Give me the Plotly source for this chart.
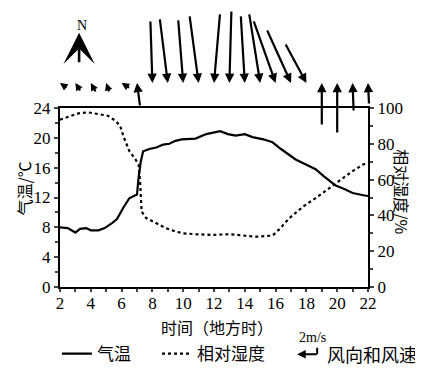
import plotly.graph_objects as go

# ---------------- data ----------------
t_hours = [2.0, 2.5, 3.0, 3.3, 3.7, 4.0, 4.5, 4.9, 5.4, 5.7, 6.1, 6.5, 6.8, 7.0, 7.1, 7.25,
           7.4, 7.8, 8.25, 8.7, 9.1, 9.5, 9.9, 10.35, 10.8, 11.5, 11.9, 12.4, 12.9, 13.4,
           14.0, 14.5, 15.2, 15.8, 16.35, 16.8, 17.3, 18.0, 18.6, 19.1, 19.5, 19.9, 20.5,
           21.0, 21.7, 22.0]
temperature = [8.0, 7.9, 7.3, 7.8, 7.9, 7.6, 7.6, 7.9, 8.6, 9.1, 10.6, 11.9, 12.2, 12.4, 14.6,
               16.9, 18.2, 18.5, 18.7, 19.1, 19.2, 19.6, 19.8, 19.9, 19.9, 20.5, 20.7, 20.9,
               20.5, 20.3, 20.5, 20.1, 19.8, 19.4, 18.5, 17.8, 17.1, 16.4, 15.8, 14.9, 14.2,
               13.6, 13.1, 12.6, 12.3, 12.2]

h_hours = [2.0, 2.4, 3.2, 3.8, 4.5, 5.1, 5.6, 5.9, 6.15, 6.5, 6.9, 7.1, 7.2, 7.25, 7.3, 7.6,
           8.25, 8.9, 9.5, 10.0, 10.8, 11.9, 13.0, 13.8, 14.7, 15.8, 16.2, 16.9, 17.8, 18.6,
           19.5, 20.4, 21.0, 21.7, 22.0]
humidity = [93.5, 94.7, 97.0, 97.6, 96.6, 95.7, 92.9, 90.1, 83.5, 76.0, 71.3, 68.5, 59.0, 48.0,
            42.2, 38.5, 35.6, 32.8, 31.0, 30.0, 29.5, 29.1, 29.5, 28.7, 28.1, 28.7, 31.9, 38.5,
            45.0, 49.7, 55.3, 61.0, 64.7, 68.5, 69.5]

# wind (m/s): u = eastward component, v = northward component (direction wind blows toward)
wind_hours = list(range(2, 23))
wind_u = [-0.7, -0.5, -0.5, -0.3, -0.8, -0.3, 0.2, 0.8, 0.5, 0.9, -0.6, -0.2, 0.4, 1.1, 2.2,
          2.4, 2.1, 0.0, 0.0, -0.1, -0.1]
wind_v = [0.5, 0.8, 0.9, 0.9, 0.5, 2.3, -6.2, -6.4, -6.3, -6.7, -6.9, -7.2, -6.7, -6.9, -6.2,
          -5.3, -3.9, 4.2, 5.0, 2.8, 2.1]
legend_speed = 2  # m/s

x_ticks = list(range(2, 23, 2))

# ---------------- style ----------------
FONT = "Liberation Serif, Noto Sans CJK SC, serif"
CJK = "Noto Sans CJK SC, sans-serif"
PX_PER_MS = 10.0      # arrow length scale (pixels per m/s)
WIND_BASE = 1.14      # paper y of wind arrow heads
LEG_Y = -0.375
TINY = dict(size=1, color="black")

fig = go.Figure()
fig.add_trace(go.Scatter(x=t_hours, y=temperature, mode="lines", name="气温",
                         line=dict(color="black", width=2.2), yaxis="y", legend="legend"))
fig.add_trace(go.Scatter(x=h_hours, y=humidity, mode="lines", name="相对湿度",
                         line=dict(color="black", width=2.2, dash="dot"), yaxis="y2",
                         legend="legend2"))

annotations = []
for h, u, v in zip(wind_hours, wind_u, wind_v):
    length = (u * u + v * v) ** 0.5 * PX_PER_MS
    small = length < 15
    annotations.append(dict(x=h, y=WIND_BASE, xref="x", yref="paper", text="",
                            font=TINY, borderpad=0,
                            showarrow=True, arrowhead=2,
                            arrowsize=0.72 if small else 0.85,
                            arrowwidth=2.1 if small else 2.2,
                            arrowcolor="black", ax=-u * PX_PER_MS, ay=v * PX_PER_MS,
                            standoff=0, startstandoff=0))

# north arrow
annotations.append(dict(x=0.062, y=1.42, xref="paper", yref="paper", text="",
                        font=TINY, borderpad=0,
                        showarrow=True, arrowhead=3, arrowsize=2.0, arrowwidth=2.6,
                        arrowcolor="black", ax=0, ay=30, standoff=0, startstandoff=0))
annotations.append(dict(x=0.072, y=1.46, xref="paper", yref="paper", text="N",
                        xanchor="center", yanchor="middle",
                        showarrow=False, font=dict(family=FONT, size=14, color="black")))

# axis titles
annotations.append(dict(x=-0.117, y=0.55, xref="paper", yref="paper", text="气温/℃",
                        textangle=-90, showarrow=False, xanchor="center", yanchor="middle",
                        font=dict(family=CJK, size=16, color="black")))
annotations.append(dict(x=1.11, y=0.53, xref="paper", yref="paper", text="相对湿度/%",
                        textangle=90, showarrow=False, xanchor="center", yanchor="middle",
                        font=dict(family=CJK, size=16, color="black")))
annotations.append(dict(x=0.51, y=-0.225, xref="paper", yref="paper", text="时间（地方时）",
                        showarrow=False, xanchor="center", yanchor="middle",
                        font=dict(family=CJK, size=16, color="black")))

# wind legend
annotations.append(dict(x=0.77, y=LEG_Y, xref="paper", yref="paper", text="",
                        font=TINY, borderpad=0,
                        showarrow=True, arrowhead=2, arrowsize=0.85, arrowwidth=2,
                        arrowcolor="black", ax=legend_speed * PX_PER_MS, ay=0,
                        standoff=0, startstandoff=0))
annotations.append(dict(x=0.77 + legend_speed * PX_PER_MS / 308, y=LEG_Y, xref="paper",
                        yref="paper", text="", font=TINY, borderpad=0,
                        showarrow=True, arrowhead=0, arrowwidth=2, arrowcolor="black",
                        ax=0, ay=-7, standoff=0, startstandoff=0))
annotations.append(dict(x=0.82, y=LEG_Y + 0.095, xref="paper", yref="paper",
                        text=f"{legend_speed}m/s", showarrow=False,
                        xanchor="center", yanchor="middle",
                        font=dict(family=FONT, size=14, color="black")))
annotations.append(dict(x=1.012, y=LEG_Y, xref="paper", yref="paper", text="风向和风速",
                        showarrow=False, xanchor="center", yanchor="middle",
                        font=dict(family=CJK, size=18, color="black")))

LEGEND_STYLE = dict(orientation="h", y=LEG_Y, xanchor="left", yanchor="middle",
                    font=dict(family=CJK, size=17, color="black"),
                    bgcolor="rgba(0,0,0,0)", itemwidth=30)

fig.update_layout(
    width=423, height=372,
    margin=dict(l=52, r=63, t=100, b=93, autoexpand=False),
    paper_bgcolor="white", plot_bgcolor="white",
    font=dict(family=FONT, size=17, color="black"),
    showlegend=True,
    legend=dict(x=-0.01, **LEGEND_STYLE),
    legend2=dict(x=0.315, **LEGEND_STYLE),
    xaxis=dict(range=[2, 22], tickvals=x_ticks, showline=True, linewidth=2,
               linecolor="black", mirror=True, ticks="outside", ticklen=3, tickwidth=2,
               ticklabelstandoff=-3,
               minor=dict(dtick=1, ticks="outside", ticklen=3, tickwidth=2),
               showgrid=False, zeroline=False),
    yaxis=dict(range=[0, 24], dtick=4, showline=True, linewidth=2, linecolor="black",
               ticks="outside", ticklen=4, tickwidth=2,
               minor=dict(dtick=2, ticks="outside", ticklen=3, tickwidth=2),
               showgrid=False, zeroline=False),
    yaxis2=dict(range=[0, 100], dtick=20, overlaying="y", side="right", showline=True,
                linewidth=2, linecolor="black", ticks="outside", ticklen=4, tickwidth=2,
                minor=dict(dtick=10, ticks="outside", ticklen=3, tickwidth=2),
                showgrid=False, zeroline=False),
    annotations=annotations,
)

fig.write_html("out.html")
